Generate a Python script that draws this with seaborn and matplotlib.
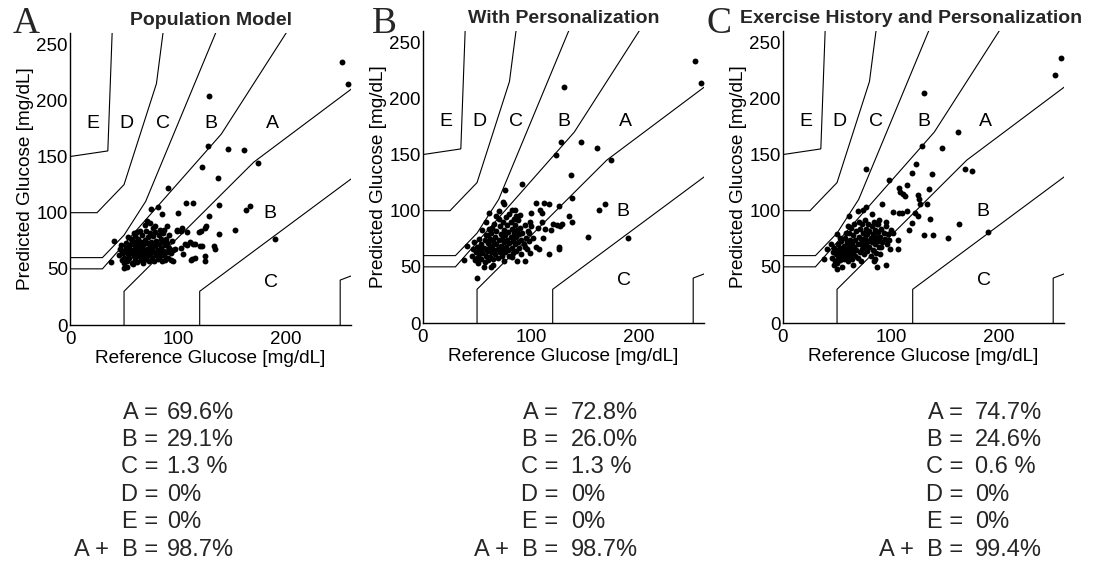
import matplotlib
matplotlib.use("Agg")
import matplotlib.pyplot as plt
import seaborn as sns
import pandas as pd

# ---------------------------------------------------------------
# Parkes (consensus) error grid, type 1 diabetes: zone boundaries
# ---------------------------------------------------------------
zone_lines = {
    "A_upper": [(0, 50), (30, 50), (140, 170), (280, 380), (5000, 5500)],
    "A_lower": [(50, 0), (50, 30), (170, 145), (385, 300), (550, 450)],
    "B_upper": [(0, 60), (30, 60), (50, 80), (70, 110), (260, 550)],
    "B_lower": [(120, 0), (120, 30), (260, 130), (550, 250)],
    "C_upper": [(0, 100), (25, 100), (50, 125), (80, 215), (125, 550)],
    "C_lower": [(250, 0), (250, 40), (550, 150)],
    "D_upper": [(0, 150), (35, 155), (50, 550)],
}

zone_labels = ["E", "D", "C", "B", "A", "B", "C"]
zone_label_x = [21, 52, 86, 130, 187, 185, 186]
zone_label_y = [179, 179, 179, 179, 179, 99, 38]

# ---------------------------------------------------------------
# Reference vs predicted glucose [mg/dL]
# ---------------------------------------------------------------
pop_ref = [252, 257, 129, 128, 146, 161, 122, 137, 174, 91, 138, 129, 163, 167, 153, 190,
           138, 133, 134, 125, 126, 125, 125, 122, 119, 114, 107, 100, 75, 81, 85, 99, 104,
           108, 106, 116, 112, 116, 111, 114, 120, 108, 97, 103, 105, 113, 93, 83, 71, 74,
           69, 79, 83, 90, 99, 103, 121, 59, 62, 56, 41, 38, 50,
           45, 46, 47, 48, 49, 50, 50, 51, 52, 52, 53, 54, 54, 55, 55, 56, 57, 57, 58, 58,
           59, 60, 60, 61, 61, 62, 62, 63, 63, 64, 65, 65, 66, 66, 67, 67, 68, 68, 69, 69,
           70, 70, 71, 71, 72, 72, 73, 73, 74, 74, 75, 75, 76, 76, 77, 77, 78, 78, 79, 79,
           80, 80, 81, 81, 82, 82, 83, 84, 84, 85, 85, 86, 86, 87, 88, 88, 89, 90, 90, 91,
           92, 92, 93, 94, 95, 95, 65, 60, 54, 48, 53, 58, 68, 77, 87]
pop_pred = [234, 215, 204, 159, 157, 156, 141, 131, 144, 122, 107, 97, 102, 106, 85, 77,
            81, 70, 68, 86, 88, 61, 57, 70, 83, 109, 109, 100, 103, 105, 99, 84, 86,
            83, 72, 72, 58, 60, 74, 72, 70, 71, 68, 69, 63, 59, 58, 61, 93, 91,
            89, 88, 85, 88, 85, 84, 84, 82, 83, 77, 75, 56, 51,
            62, 68, 71, 58, 64, 55, 60, 67, 70, 73, 57, 63, 66, 60, 69, 72, 55, 64, 67, 75,
            61, 58, 70, 64, 73, 56, 67, 61, 77, 70, 63, 66, 58, 74, 68, 80, 61, 71, 65, 76,
            59, 84, 68, 73, 62, 78, 66, 57, 70, 82, 64, 74, 60, 68, 79, 72, 65, 57, 70, 83,
            62, 75, 67, 59, 72, 80, 64, 69, 77, 57, 74, 66, 82, 62, 71, 58, 77, 65, 73, 60,
            69, 80, 64, 75, 67, 57, 84, 79, 78, 66, 52, 54, 55, 86, 85]

pers_ref = [252, 257, 130, 128, 146, 161, 123, 174, 137, 92, 138, 163, 168, 153, 190, 126,
            117, 112, 105, 108, 110, 100, 135, 138, 129, 124, 127, 118, 111, 117, 126, 126,
            98, 102, 105, 107, 99, 94, 87, 82, 76, 74, 75, 61, 82, 85, 41, 38, 50, 63, 106,
            113, 120, 110, 100,
            45, 46, 47, 48, 49, 50, 50, 51, 52, 52, 53, 54, 54, 55, 55, 56, 57, 57, 58, 58,
            59, 60, 60, 61, 61, 62, 62, 63, 63, 64, 65, 65, 66, 66, 67, 67, 68, 68, 69, 69,
            70, 70, 71, 71, 72, 72, 73, 73, 74, 74, 75, 75, 76, 76, 77, 77, 78, 78, 79, 79,
            80, 80, 81, 81, 82, 82, 83, 83, 84, 84, 85, 85, 86, 86, 87, 88, 88, 89, 89, 90,
            91, 91, 92, 93, 94, 95, 96, 97, 98, 99, 90, 80, 70, 64, 58, 56, 65, 75, 60, 68,
            86, 94, 52]
pers_pred = [233, 214, 210, 161, 161, 156, 150, 145, 132, 124, 111, 101, 106, 77, 76, 104,
             106, 107, 107, 101, 98, 98, 95, 90, 88, 87, 86, 83, 76, 61, 68, 66,
             80, 76, 68, 66, 62, 55, 55, 59, 118, 108, 106, 98, 101, 101, 69, 56, 40, 50, 85,
             84, 88, 90, 86,
             60, 66, 72, 56, 63, 58, 68, 53, 61, 75, 65, 57, 70, 62, 83, 67, 54, 74, 60, 78,
             64, 71, 56, 67, 84, 59, 75, 63, 80, 69, 57, 73, 65, 88, 61, 77, 70, 82, 58, 66,
             74, 93, 63, 86, 69, 79, 60, 75, 66, 90, 72, 83, 63, 78, 68, 94, 74, 87, 65, 81,
             71, 60, 77, 90, 67, 84, 73, 62, 80, 93, 70, 87, 64, 77, 83, 72, 92, 67, 79, 85,
             74, 61, 80, 70, 87, 76, 66, 82, 73, 90, 96, 97, 100, 85, 90, 50, 52, 55, 78, 95,
             95, 68, 68]

exer_ref = [257, 252, 130, 129, 147, 162, 123, 119, 138, 135, 168, 175, 98, 77, 125, 126,
            127, 133, 115, 107, 108, 111, 113, 102, 107, 110, 122, 125, 136, 119, 117, 130,
            139, 153, 163, 190, 106, 106, 99, 95, 87, 84, 85, 90, 91, 50, 61, 74, 77, 69, 82,
            41, 38, 50, 100, 102, 92, 95, 88, 115,
            45, 46, 47, 48, 49, 50, 50, 51, 51, 52, 53, 53, 54, 54, 55, 56, 56, 57, 57, 58,
            58, 59, 60, 60, 61, 61, 62, 62, 63, 63, 64, 64, 65, 65, 66, 66, 67, 67, 68, 68,
            69, 69, 70, 70, 71, 71, 72, 72, 73, 73, 74, 74, 75, 75, 76, 76, 77, 77, 78, 78,
            79, 79, 80, 80, 81, 81, 82, 82, 83, 83, 84, 84, 85, 85, 86, 86, 87, 88, 88, 89,
            89, 90, 91, 92, 93, 94, 95, 96, 97, 98, 58, 55, 65, 72, 60, 53, 47, 44]
exer_pred = [236, 221, 205, 158, 156, 170, 142, 134, 133, 119, 137, 135, 127, 137, 114, 110,
             106, 106, 123, 120, 117, 115, 113, 99, 98, 98, 98, 95, 93, 89, 83, 78,
             78, 76, 88, 81, 74, 66, 66, 52, 50, 55, 57, 61, 68, 79, 95, 101, 103, 100, 97,
             66, 57, 48, 83, 80, 106, 90, 88, 100,
             58, 63, 67, 55, 61, 53, 65, 58, 70, 62, 56, 67, 60, 73, 64, 57, 69, 62, 76, 59,
             66, 72, 55, 63, 69, 80, 60, 74, 66, 85, 57, 71, 63, 78, 68, 88, 60, 74, 65, 82,
             70, 58, 77, 90, 63, 84, 70, 75, 66, 88, 72, 80, 61, 68, 76, 92, 70, 84, 64, 79,
             73, 88, 68, 82, 76, 60, 72, 86, 79, 65, 90, 74, 70, 83, 77, 62, 88, 73, 81, 68,
             92, 77, 84, 72, 80, 75, 86, 70, 79, 74, 80, 50, 52, 55, 86, 76, 52, 70]

panel_titles = ["Population Model", "With Personalization",
                "Exercise History and Personalization"]
panel_letters = ["A", "B", "C"]
panel_refs = [pop_ref, pers_ref, exer_ref]
panel_preds = [pop_pred, pers_pred, exer_pred]

# Zone percentages reported under each grid
row_labels = ["A =", "B =", "C =", "D =", "E =", "A +  B ="]
pop_pct = ["69.6%", "29.1%", "1.3 %", "0%", "0%", "98.7%"]
pers_pct = ["72.8%", "26.0%", "1.3 %", "0%", "0%", "98.7%"]
exer_pct = ["74.7%", "24.6%", "0.6 %", "0%", "0%", "99.4%"]
panel_pcts = [pop_pct, pers_pct, exer_pct]

# ---------------------------------------------------------------
sns.set_theme(style="white")
plt.rcParams["font.family"] = ["Liberation Sans", "DejaVu Sans"]

W, H = 1094, 564
fig = plt.figure(figsize=(W / 100, H / 100), dpi=100)

# axes boxes in pixels: left, top, right, bottom
boxes = [(70, 33, 351, 325), (423, 31, 704, 323), (783, 31, 1064, 323)]
title_x = [0.5, 0.5, 0.455]
letter_x = [13, 372, 707]
eq_x = [158, 558, 963]
val_x = [167, 571, 975]
row_y = [413, 440, 467, 495, 522, 550]

for i in range(3):
    l, t, r, b = boxes[i]
    ax = fig.add_axes([l / W, 1 - b / H, (r - l) / W, (b - t) / H])

    for pts in zone_lines.values():
        xs = [p[0] for p in pts]
        ys = [p[1] for p in pts]
        ax.plot(xs, ys, color="black", lw=0.8, solid_joinstyle="miter")

    df = pd.DataFrame({"ref": panel_refs[i], "pred": panel_preds[i]})
    sns.scatterplot(data=df, x="ref", y="pred", ax=ax, color="black",
                    s=18, linewidth=0, zorder=3)

    for lab, zx, zy in zip(zone_labels, zone_label_x, zone_label_y):
        ax.text(zx, zy, lab, fontsize=14, ha="center", va="center", color="black")

    ax.set_xlim(0, 260)
    ax.set_ylim(0, 260)
    ax.set_xticks([0, 100, 200])
    ax.set_yticks([0, 50, 100, 150, 200, 250])
    ax.tick_params(axis="both", length=0, labelsize=13.5, colors="black")
    ax.tick_params(axis="x", pad=4)
    ax.tick_params(axis="y", pad=1.5)
    ax.set_xlabel("Reference Glucose [mg/dL]", fontsize=13.7, labelpad=2, color="black")
    ax.set_ylabel("Predicted Glucose [mg/dL]", fontsize=13.7, labelpad=2, color="black")
    for side in ["top", "right"]:
        ax.spines[side].set_visible(False)
    for side in ["left", "bottom"]:
        ax.spines[side].set_color("black")
        ax.spines[side].set_linewidth(1.0)

    ax.text(title_x[i], 1 + 8 / (b - t), panel_titles[i], transform=ax.transAxes,
            ha="center", va="baseline", fontsize=14, fontweight="bold")

    fig.text(letter_x[i] / W, 1 - 33 / H, panel_letters[i], fontsize=27,
             family=["Liberation Serif", "DejaVu Serif"], ha="left", va="baseline")

    for lab, val, ry in zip(row_labels, panel_pcts[i], row_y):
        fig.text(eq_x[i] / W, 1 - ry / H, lab, fontsize=17, ha="right", va="center")
        fig.text(val_x[i] / W, 1 - ry / H, val, fontsize=17, ha="left", va="center")

fig.savefig("out.png", dpi=100, facecolor="white")
